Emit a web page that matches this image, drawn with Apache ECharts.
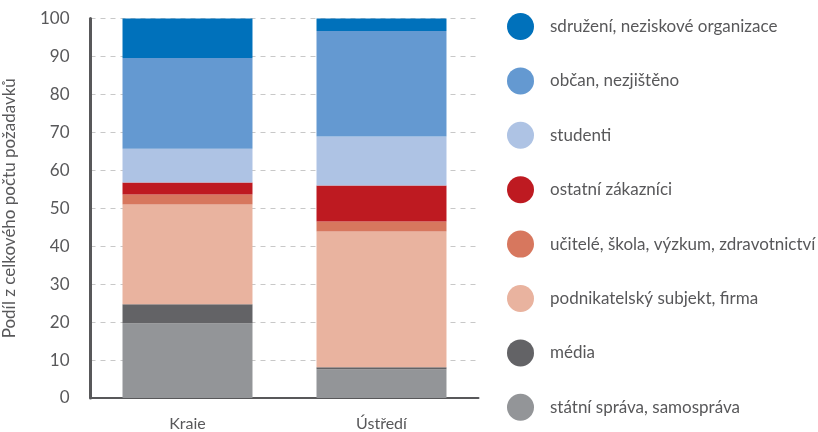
<!DOCTYPE html>
<html>
<head>
<meta charset="utf-8">
<script src="https://cdn.jsdelivr.net/npm/echarts@6/dist/echarts.min.js"></script>
<style>
  html, body { margin: 0; padding: 0; background: #fff; }
  #chart { width: 818px; height: 432px; }
</style>
</head>
<body>
<div id="chart"></div>
<script>
// Categories on the x axis
const categories = ['Kraie', 'Ústředí'];

// Shares of requests (%) per requester group, bottom of the stack first
const statniSprava   = [19.7, 7.6];
const media          = [5.0, 0.5];
const podnikatelsky  = [26.3, 35.8];
const ucitele        = [2.6, 2.6];
const ostatni        = [3.2, 9.5];
const studenti       = [8.9, 12.9];
const obcan          = [23.9, 27.8];
const sdruzeni       = [10.4, 3.3];

// Y axis ticks
const yTicks = [0, 10, 20, 30, 40, 50, 60, 70, 80, 90, 100];

const seriesDefs = [
  { name: 'státní správa, samospráva', data: statniSprava, color: '#939598' },
  { name: 'média', data: media, color: '#636366' },
  { name: 'podnikatelský subjekt, firma', data: podnikatelsky, color: '#E9B39F' },
  { name: 'učitelé, škola, výzkum, zdravotnictví', data: ucitele, color: '#D7775E' },
  { name: 'ostatní zákazníci', data: ostatni, color: '#BE1A21' },
  { name: 'studenti', data: studenti, color: '#AEC3E4' },
  { name: 'občan, nezjištěno', data: obcan, color: '#6499D1' },
  { name: 'sdružení, neziskové organizace', data: sdruzeni, color: '#0071BB' }
];

const font = 'Lato, "Noto Sans", sans-serif';
const textColor = '#58585a';

const chart = echarts.init(document.getElementById('chart'), null, { renderer: 'canvas' });

chart.setOption({
  animation: false,
  textStyle: { fontFamily: font },
  grid: { left: 90.5, right: 339.5, top: 18.5, bottom: 33, containLabel: false },
  legend: {
    orient: 'vertical',
    left: 507,
    top: 13,
    padding: 0,
    icon: 'circle',
    itemWidth: 27,
    itemHeight: 27,
    itemGap: 27.4,
    data: seriesDefs.map(s => s.name).reverse(),
    textStyle: { fontFamily: font, fontSize: 17, color: textColor, padding: [0, 0, 0, 11] },
    selectedMode: false
  },
  xAxis: {
    type: 'category',
    data: categories,
    axisLine: { show: true, lineStyle: { color: '#58585a', width: 2 } },
    axisTick: { show: false },
    axisLabel: { fontFamily: font, fontSize: 16, color: textColor, margin: 18 }
  },
  yAxis: {
    type: 'value',
    min: yTicks[0],
    max: yTicks[yTicks.length - 1],
    interval: 10,
    name: 'Podíl z celkového počtu požadavků',
    nameLocation: 'middle',
    nameGap: 72,
    nameRotate: 90,
    nameTextStyle: { fontFamily: font, fontSize: 17, color: textColor },
    axisLine: { show: true, lineStyle: { color: '#58585a', width: 3 } },
    axisTick: { show: false },
    axisLabel: { fontFamily: font, fontSize: 17, color: textColor, margin: 21 },
    splitLine: { show: true, lineStyle: { color: '#c8c8c8', type: [5, 5], width: 1 } }
  },
  series: seriesDefs.map(s => ({
    name: s.name,
    type: 'bar',
    stack: 'total',
    data: s.data,
    barWidth: '67%',
    itemStyle: { color: s.color },
    emphasis: { disabled: true }
  }))
});
</script>
</body>
</html>
